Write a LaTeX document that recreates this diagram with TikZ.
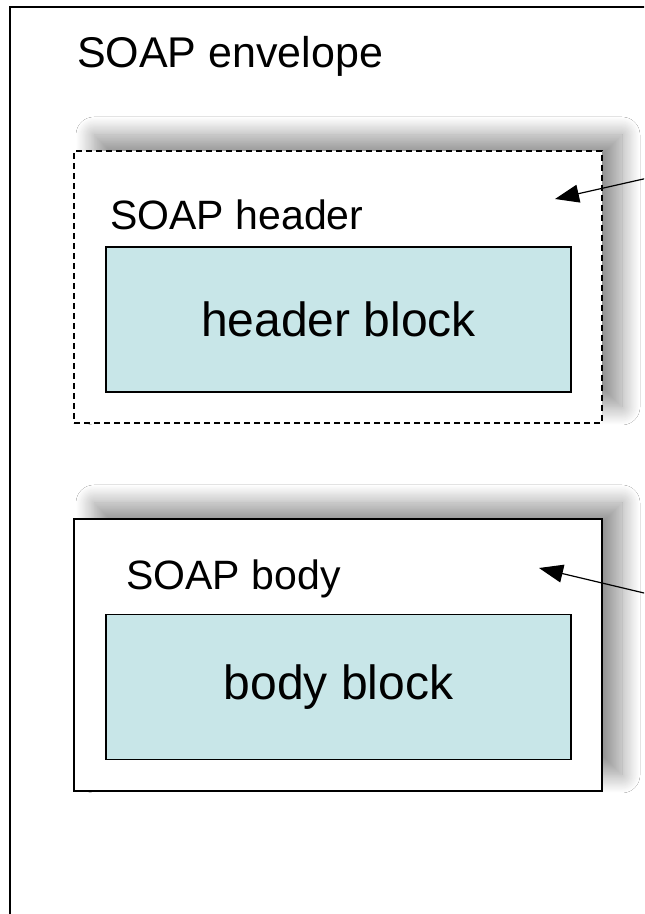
\documentclass[tikz,border=0pt]{standalone}
\usepackage{fontspec}
\setmainfont{Liberation Sans}
\usepackage{xcolor}
\usetikzlibrary{arrows.meta,positioning,shadows.blur}
\definecolor{blockblue}{RGB}{200,230,232}
\tikzset{%
  >={Triangle[width=9pt,length=12pt]},
  % Specifications for style of nodes:
         base/.style = {rectangle, draw=black, line width=0.75pt,
                        inner sep=0pt},
      soappart/.style = {base, fill=white, minimum width=264pt,
                         minimum height=136pt,
                         blur shadow={shadow xshift=10pt, shadow yshift=8pt,
                                      shadow blur radius=9pt,
                                      shadow blur steps=20,
                                      shadow opacity=42}},
     soapblock/.style = {base, fill=blockblue, minimum width=232.5pt,
                         minimum height=72.5pt,
                         font=\fontsize{24}{28}\selectfont},
     soaplabel/.style = {inner sep=0pt, font=\fontsize{20.5}{25}\selectfont},
      pointer/.style = {->, line width=0.6pt},
}

\begin{document}
\begin{tikzpicture}[x=1pt,y=1pt]
  \useasboundingbox (0,0) rectangle (322,457);
  \clip (0,0) rectangle (322,457);
  % Envelope, running past the right and bottom edges
  \draw[line width=0.75pt, fill=white] (5,-20) rectangle (340,453.5);
  \node (envlabel) [soaplabel, font=\fontsize{21.5}{25}\selectfont]
        at (115,429) {SOAP envelope};
  % Header and body parts with their blocks
  \node (header) [soappart, dashed, dash pattern=on 3pt off 2pt]
        at (169,313.5) {};
  \node (hdrblock) [soapblock] at (169.25,297.25) {header block};
  \node (hdrlabel) [soaplabel, anchor=west] at (55,349.5) {SOAP header};
  \node (body) [soappart] at (169,129.5) {};
  \node (bodyblock) [soapblock] at (169.25,113.5) {body block};
  \node (bodylabel) [soaplabel, anchor=west] at (63,167.5) {SOAP body};
  % Pointers coming in from the right
  \coordinate (hdrfrom) at (335,370.5);
  \coordinate (hdrto) at (277.5,357.5);
  \coordinate (bodyfrom) at (335,157.4);
  \coordinate (bodyto) at (269.5,173);
  \draw[pointer] (hdrfrom) -- (hdrto);
  \draw[pointer] (bodyfrom) -- (bodyto);
\end{tikzpicture}
\end{document}
